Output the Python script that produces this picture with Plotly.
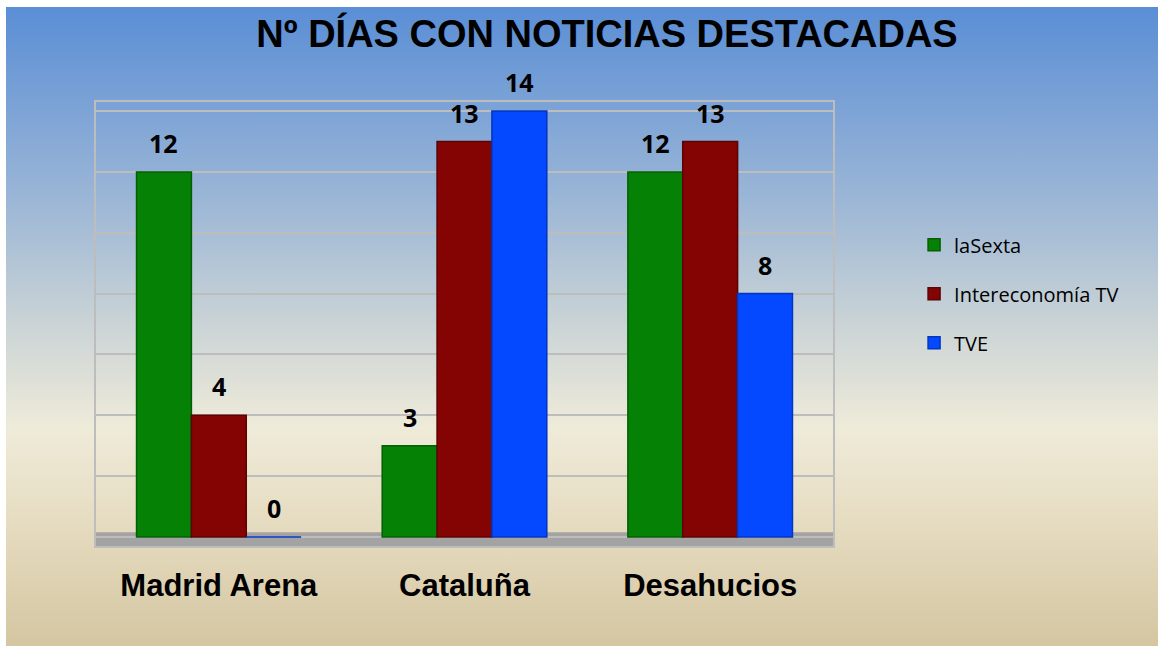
import base64
import plotly.graph_objects as go

categories = ["Madrid Arena", "Cataluña", "Desahucios"]
series_names = ["laSexta", "Intereconomía TV", "TVE"]
lasexta = [12, 3, 12]
intereconomia = [4, 13, 13]
tve = [0, 14, 8]
series_values = [lasexta, intereconomia, tve]
colors = ["#058205", "#840404", "#0449FF"]
edge_colors = ["#035F03", "#5E0202", "#0235C0"]
title_text = "Nº DÍAS CON NOTICIAS DESTACADAS"

W, H = 1158, 646
ML, MR, MT, MB = 96, 325, 102, 100
PW = W - ML - MR
PH = H - MT - MB

svg = f"""<svg xmlns='http://www.w3.org/2000/svg' width='100' height='100' preserveAspectRatio='none'>
<defs><linearGradient id='g' x1='0' y1='0' x2='0' y2='1'>
<stop offset='0' stop-color='#5A8ED6'/>
<stop offset='0.30' stop-color='#9BB6D6'/>
<stop offset='0.50' stop-color='#CBD4D6'/>
<stop offset='0.66' stop-color='#EFEBD9'/>
<stop offset='0.84' stop-color='#E3D8BB'/>
<stop offset='1' stop-color='#D4C6A2'/>
</linearGradient></defs>
<rect x='0' y='0' width='100' height='100' fill='url(#g)'/></svg>"""
src = "data:image/svg+xml;base64," + base64.b64encode(svg.encode()).decode()

fig = go.Figure()
x_idx = list(range(len(categories)))
for name, vals, c, ec in zip(series_names, series_values, colors, edge_colors):
    fig.add_trace(go.Bar(
        x=x_idx, y=vals, name=name, legendgroup=name,
        marker=dict(color=c, line=dict(color=ec, width=1.5)),
        hoverinfo="y",
    ))

bar_w = (1 - 0.33) / len(series_names)
annotations = []
for i, vals in enumerate(series_values):
    for j, v in enumerate(vals):
        annotations.append(dict(
            x=j + (i - 1) * bar_w, y=v, xref="x", yref="y",
            text=f"<b>{v}</b>", showarrow=False, yanchor="bottom",
            yshift=10, font=dict(family="Open Sans", size=25, color="black"),
        ))

fig.update_layout(
    width=W, height=H,
    margin=dict(l=ML, r=MR, t=MT, b=MB),
    paper_bgcolor="white",
    plot_bgcolor="rgba(0,0,0,0)",
    barmode="group", bargap=0.33, bargroupgap=0,
    title=dict(text=f"<b>{title_text}</b>", x=607 / W, xanchor="center",
               y=1 - 34 / H, yanchor="middle",
               font=dict(family="Liberation Sans, Arial", size=38, color="black")),
    xaxis=dict(tickmode="array", tickvals=x_idx, ticktext=[f"<b>{c}</b>" for c in categories],
               range=[-0.5, len(categories) - 0.5], ticks="", showgrid=False,
               showline=True, mirror=True, linecolor="#BDBDBD", linewidth=2,
               tickfont=dict(family="Liberation Sans, Arial", size=31, color="black"),
               ticklabelstandoff=11, zeroline=False),
    yaxis=dict(range=[-0.3, 14.3], dtick=2, tick0=0, showticklabels=False, ticks="",
               showgrid=True, gridcolor="#BDBDBD", gridwidth=2, zeroline=False,
               showline=True, mirror=True, linecolor="#BDBDBD", linewidth=2),
    legend=dict(x=1.11, xanchor="left", y=0.568, yanchor="middle",
                font=dict(family="Open Sans", size=20, color="black"),
                tracegroupgap=20, bgcolor="rgba(0,0,0,0)"),
    annotations=annotations,
    images=[dict(source=src, xref="paper", yref="paper",
                 x=(6 - ML) / PW, y=(H - MB - 7) / PH,
                 sizex=(W - 6) / PW, sizey=(H - 7) / PH,
                 xanchor="left", yanchor="top", sizing="stretch", layer="below")],
    shapes=[dict(type="rect", xref="paper", yref="y", x0=0, x1=1, y0=-0.3, y1=0.15,
                 fillcolor="#A3A3A3", line=dict(width=0), layer="below")],
    showlegend=True,
)

fig.write_html("out.html", config={"displayModeBar": False},
               post_script="document.body.style.margin='0';document.body.style.overflow='hidden';")
